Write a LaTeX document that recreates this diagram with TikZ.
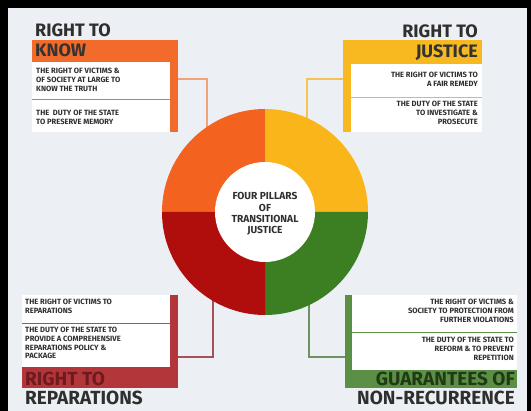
\documentclass[tikz,border=0pt]{standalone}
\usepackage{fontspec}
\setmainfont{Fira Sans}
\definecolor{bgc}{HTML}{ECEFF3}
\definecolor{orbar}{HTML}{F26B2A}
\definecolor{orring}{HTML}{F4621F}
\definecolor{orline}{HTML}{F0A27A}
\definecolor{yebar}{HTML}{F7B820}
\definecolor{yering}{HTML}{F9B51A}
\definecolor{yeline}{HTML}{F3C455}
\definecolor{rebar}{HTML}{B3363B}
\definecolor{rering}{HTML}{B00D0D}
\definecolor{reline}{HTML}{A8505A}
\definecolor{grbar}{HTML}{5B8F45}
\definecolor{grring}{HTML}{3C7E22}
\definecolor{grline}{HTML}{6E9062}
\definecolor{txt}{HTML}{2F2F2F}
\definecolor{retxt}{HTML}{6E1A1F}
\definecolor{grtxt}{HTML}{1F3A14}
\begin{document}
\begin{tikzpicture}[x=1pt,y=-1pt,
  head/.style={inner sep=0pt,font=\fontsize{18}{18}\selectfont\bfseries,text=txt},
  headb/.style={inner sep=0pt,font=\fontsize{19}{19}\selectfont\bfseries,text=txt},
  small/.style={inner sep=0pt,font=\fontsize{7.6}{8.8}\selectfont\bfseries,text=txt},
  conn/.style={line width=1.6pt},
  sep/.style={line width=1.4pt}]
\useasboundingbox (0,0) rectangle (531,411);
\fill[black] (0,0) rectangle (531,411);
\fill[bgc] (8,8) rectangle (527,411);
% ---------- top left: RIGHT TO KNOW
\coordinate (kA) at (178,79);
\coordinate (kB) at (207,150);
\draw[conn,orline] (kA) -| (kB);
\fill[white] (32,62) rectangle (170,132);
\draw[sep,orbar] (32,99.5) -- (170,99.5);
\fill[orbar] (32,40) rectangle (178,62);
\fill[orbar] (170,40) rectangle (178,132);
\node[head,anchor=base west] (kn1) at (35,37) {RIGHT TO};
\node[head,anchor=base west,text=black!80] (kn2) at (35,57) {KNOW};
\node[small,anchor=north west,align=left] (kn3) at (36,68) {THE RIGHT OF VICTIMS \&\\OF SOCIETY AT LARGE TO\\KNOW THE TRUTH};
\node[small,anchor=north west,align=left] (kn4) at (36,110) {THE\ \ DUTY OF THE STATE\\TO PRESERVE MEMORY};
% ---------- top right: RIGHT TO JUSTICE
\coordinate (jA) at (343,79);
\coordinate (jB) at (307,150);
\draw[conn,yeline] (jA) -| (jB);
\fill[white] (351,64) rectangle (482,132);
\draw[sep,yebar] (351,97.5) -- (482,97.5);
\fill[yebar] (343,40) rectangle (482,64);
\fill[yebar] (343,40) rectangle (351,132);
\node[head,anchor=base east] (ju1) at (478,38) {RIGHT TO};
\node[head,anchor=base east,text=black!80] (ju2) at (478,58) {JUSTICE};
\node[small,anchor=north east,align=right] (ju3) at (478,72) {THE RIGHT OF VICTIMS TO\\A FAIR REMEDY};
\node[small,anchor=north east,align=right] (ju4) at (478,101) {THE DUTY OF THE STATE\\TO INVESTIGATE \&\\PROSECUTE};
% ---------- bottom left: RIGHT TO REPARATIONS
\coordinate (rA) at (178,357);
\coordinate (rB) at (213,280);
\draw[conn,reline] (rA) -| (rB);
\fill[white] (22,295) rectangle (170,367);
\draw[sep,reline] (22,323.5) -- (170,323.5);
\fill[rebar] (170,295) rectangle (178,388);
\fill[rebar] (22,367) rectangle (178,388);
\node[small,anchor=north west,align=left] (re3) at (25,299) {THE RIGHT OF VICTIMS TO\\REPARATIONS};
\node[small,anchor=north west,align=left] (re4) at (25,327) {THE DUTY OF THE STATE TO\\PROVIDE A COMPREHENSIVE\\REPARATIONS POLICY \&\\PACKAGE};
\node[headb,anchor=base west,text=retxt] (re1) at (25,386) {RIGHT TO};
\node[headb,anchor=base west] (re2) at (25,405) {REPARATIONS};
% ---------- bottom right: GUARANTEES OF NON-RECURRENCE
\coordinate (gA) at (345,357);
\coordinate (gB) at (309,280);
\draw[conn,grline] (gA) -| (gB);
\fill[white] (352,295) rectangle (517,370);
\draw[sep,grbar] (352,332.5) -- (517,332.5);
\fill[grbar] (345,295) rectangle (352,388);
\fill[grbar] (345,370) rectangle (517,388);
\node[small,anchor=north east,align=right] (gu3) at (514,299) {THE RIGHT OF VICTIMS \&\\SOCIETY TO PROTECTION FROM\\FURTHER VIOLATIONS};
\node[small,anchor=north east,align=right] (gu4) at (514,337) {THE DUTY OF THE STATE TO\\REFORM \& TO PREVENT\\REPETITION};
\node[headb,anchor=base east,text=grtxt] (gu1) at (515,386) {GUARANTEES OF};
\node[headb,anchor=base east] (gu2) at (515,405) {NON-RECURRENCE};
% ---------- ring
\coordinate (c) at (265,212);
\fill[orring] (c) -- ++(180:103) arc[start angle=180,end angle=270,radius=103] -- cycle;
\fill[yering] (c) -- ++(270:103) arc[start angle=270,end angle=360,radius=103] -- cycle;
\fill[grring] (c) -- ++(0:103) arc[start angle=0,end angle=90,radius=103] -- cycle;
\fill[rering] (c) -- ++(90:103) arc[start angle=90,end angle=180,radius=103] -- cycle;
\node[circle,fill=white,minimum size=100pt,inner sep=0pt] (hub) at (c) {};
\node[inner sep=0pt,align=center,font=\fontsize{10.2}{11.4}\selectfont\bfseries,text=txt] (hubtxt) at (265,214) {FOUR PILLARS\\OF\\TRANSITIONAL\\JUSTICE};
\end{tikzpicture}
\end{document}
